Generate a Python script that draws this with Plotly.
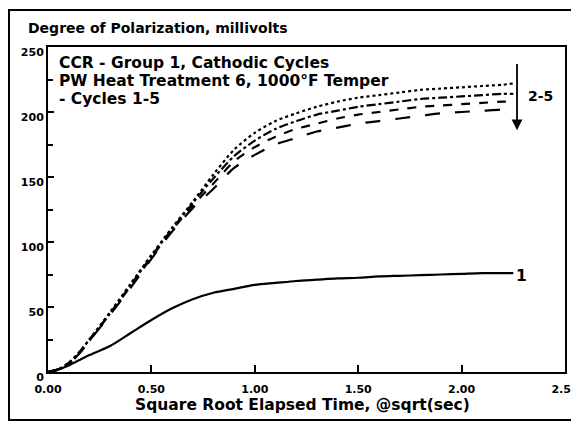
import plotly.graph_objects as go

# ---- data ----
x_vals = [0.0, 0.05, 0.1, 0.15, 0.2, 0.3, 0.4, 0.5, 0.6, 0.7, 0.8, 0.9, 1.0,
          1.1, 1.2, 1.3, 1.4, 1.5, 1.6, 1.7, 1.8, 1.9, 2.0, 2.1, 2.2, 2.25]

cycle1 = [0, 2, 5, 9, 13, 20, 30, 40, 49, 56, 61, 64, 67,
          68.5, 70, 71, 72, 72.5, 73.5, 74, 74.5, 75, 75.5, 76, 76, 76]
cycle2 = [0, 2, 7, 15, 25, 46, 68, 90, 111, 131, 152, 171, 184,
          193, 199, 204, 208, 211, 213, 215, 217, 218, 219, 220, 221, 222]
cycle3 = [0, 2, 7, 15, 25, 45, 67, 89, 110, 130, 149, 166, 178,
          187, 193, 198, 201, 204, 206, 208, 210, 211, 212, 213, 214, 214]
cycle4 = [0, 2, 6, 14, 24, 45, 66, 88, 109, 128, 145, 162, 173,
          181, 187, 191, 195, 198, 200, 202, 204, 205, 206, 207, 208, 208]
cycle5 = [0, 2, 6, 14, 24, 44, 65, 87, 108, 126, 141, 157, 167,
          175, 180, 185, 188, 191, 193, 195, 197, 199, 200, 201, 202, 203]

x_ticks = [0.0, 0.5, 1.0, 1.5, 2.0, 2.5]
x_tick_labels = ["0.00", "0.50", "1.00", "1.50", "2.00", "2.50"]
y_ticks = [0, 50, 100, 150, 200, 250]
y_tick_labels = ["0", "50", "100", "150", "200", "250"]

FONT = "DejaVu Sans, Liberation Sans, sans-serif"
fig = go.Figure()

line_w = 2.2
styles = [("1", cycle1, "solid"), ("2", cycle2, "dot"), ("3", cycle3, "dashdot"),
          ("4", cycle4, "dash"), ("5", cycle5, "longdash")]
for name, ys, dash in styles:
    fig.add_trace(go.Scatter(x=x_vals, y=ys, mode="lines", name=name,
                             line=dict(color="black", width=line_w, dash=dash,
                                       shape="spline", smoothing=0.8)))

tickfont = dict(family=FONT, size=11, color="black", weight="bold")
fig.update_xaxes(range=[0, 2.5], tickvals=x_ticks, ticktext=x_tick_labels,
                 ticks="inside", ticklen=7, tickwidth=2, tickcolor="black",
                 automargin=False, ticklabelstandoff=6,
                 showline=True, linecolor="black", linewidth=2, mirror=True,
                 showgrid=False, zeroline=False, tickfont=tickfont)
fig.update_yaxes(range=[0, 250], tickvals=y_ticks, ticktext=y_tick_labels,
                 ticks="inside", ticklen=6, tickwidth=2, tickcolor="black",
                 ticklabelshift=5, automargin=False,
                 minor=dict(dtick=25, ticks="inside", ticklen=5, tickwidth=2, tickcolor="black"),
                 showline=True, linecolor="black", linewidth=2, mirror=True,
                 showgrid=False, zeroline=False, tickfont=tickfont)

txt = dict(family=FONT, size=15.5, color="black", weight="bold")
annotations = [
    dict(text="Degree of Polarization, millivolts", xref="paper", yref="paper",
         x=-0.042, y=1.058, xanchor="left", yanchor="middle", showarrow=False,
         font=dict(family=FONT, size=14, color="black", weight="bold")),
    dict(text="Square Root Elapsed Time, @sqrt(sec)", xref="paper", yref="paper",
         x=0.493, y=-0.10, xanchor="center", yanchor="middle", showarrow=False,
         font=dict(family=FONT, size=15.5, color="black", weight="bold")),
    dict(text="CCR - Group 1, Cathodic Cycles", xref="x", yref="y", x=0.045, y=238,
         xanchor="left", yanchor="middle", showarrow=False, font=txt),
    dict(text="PW Heat Treatment 6, 1000°F Temper", xref="x", yref="y", x=0.045, y=224,
         xanchor="left", yanchor="middle", showarrow=False, font=txt),
    dict(text="- Cycles 1-5", xref="x", yref="y", x=0.045, y=210,
         xanchor="left", yanchor="middle", showarrow=False, font=txt),
    dict(text="2-5", xref="x", yref="y", x=2.31, y=212, xanchor="left",
         yanchor="middle", showarrow=False,
         font=dict(family=FONT, size=14, color="black", weight="bold")),
    dict(text="1", xref="x", yref="y", x=2.255, y=74, xanchor="left",
         yanchor="middle", showarrow=False, font=txt),
    dict(text="", xref="x", yref="y", x=2.268, y=186, axref="x", ayref="y",
         ax=2.268, ay=238, showarrow=True, arrowhead=2, arrowsize=1.2,
         arrowwidth=1.8, arrowcolor="black"),
]

fig.update_layout(
    width=571, height=424,
    margin=dict(l=40, r=14, t=39, b=60, autoexpand=False),
    paper_bgcolor="white", plot_bgcolor="white",
    showlegend=False,
    annotations=annotations,
    shapes=[dict(type="rect", xref="paper", yref="paper",
                 x0=-0.0754, x1=1.017, y0=-0.148, y1=1.114,
                 line=dict(color="black", width=2))],
)

fig.write_html("out.html")
